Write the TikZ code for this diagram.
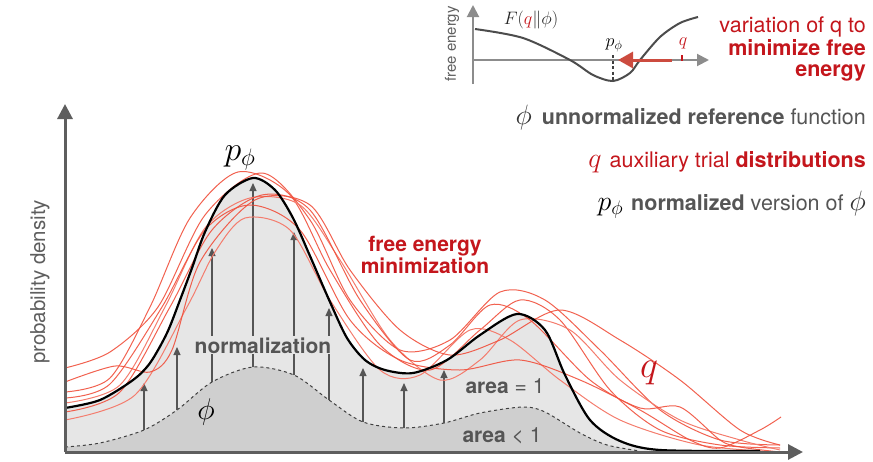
\RequirePackage{fix-cm}
\documentclass[tikz,border=0pt]{standalone}
\usepackage{fontspec}
\setmainfont{TeX Gyre Heros}
\usetikzlibrary{arrows.meta}
\definecolor{axisgray}{HTML}{5E5E5E}
\definecolor{insetgray}{HTML}{8C8C8C}
\definecolor{txtgray}{HTML}{555555}
\definecolor{fillA}{HTML}{E6E6E6}
\definecolor{fillB}{HTML}{CFCFCF}
\definecolor{qred}{HTML}{F0503C}
\definecolor{darkred}{HTML}{C4161C}
\definecolor{arrred}{HTML}{CC4B3F}
\tikzset{
  mainaxis/.style={line width=3pt, color=axisgray, -{Triangle[length=15pt,width=15pt]}},
  inaxis/.style={line width=2pt, color=insetgray, -{Triangle[length=12pt,width=12pt]}},
  normarrow/.style={line width=1.2pt, color=txtgray, -{Triangle[length=8pt,width=7pt]}},
  qcurve/.style={line width=1pt, color=qred, opacity=0.9},
  qcurvelight/.style={line width=1pt, color=qred!75!white},
  pcurve/.style={line width=2.2pt, color=black},
  phicurve/.style={line width=1pt, color=black!75, dash pattern=on 3pt off 3pt},
  lbl/.style={inner sep=1pt, font=\fontsize{21}{25}\selectfont\bfseries, text=txtgray},
  legend/.style={inner sep=0pt, anchor=base east, font=\fontsize{21.5}{25}\selectfont, text=txtgray},
}
\def\pcoords{(65,408) (100,400) (133,380) (150,363) (167,333) (180,300) (192,268) (205,232) (225,195) (253,178) (275,190) (293,218) (310,256) (330,302) (347,338) (365,360) (385,370) (413,373) (447,360) (480,335) (517,314) (545,330) (565,375) (590,420) (620,441) (660,450) (760,451)}
\def\phicoords{(65,447) (100,443) (144,430) (177,410) (212,382) (253,367) (294,375) (329,400) (363,422) (404,428) (444,423) (480,413) (523,407) (545,412) (580,433) (607,445) (640,451)}
\begin{document}
\begin{tikzpicture}[x=1pt,y=-1pt]
\useasboundingbox (0,0) rectangle (873,461);

% ---- filled areas
\fill[fillA] (65,452) -- plot[smooth] coordinates {\pcoords} -- (760,452) -- cycle;
\fill[fillB] (65,452) -- plot[smooth] coordinates {\phicoords} -- (640,452) -- cycle;
\draw[phicurve] plot[smooth] coordinates {\phicoords};

% ---- normalization arrows
\foreach \i/\x/\yb/\yt in {1/144/430/383, 2/177/410/347, 3/212/382/248, 4/253/367/183, 5/294/375/232, 6/329/400/308, 7/363/422/368, 8/404/428/383, 9/444/423/370}{
  \coordinate (b\i) at (\x,\yb);
  \coordinate (t\i) at (\x,\yt);
  \draw[normarrow] (b\i) -- (t\i);
}

% ---- trial distributions q
\draw[qcurve] plot[smooth] coordinates {(65,392) (110,378) (150,307) (190,218) (238,172) (290,195) (330,270) (380,345) (430,370) (480,330) (520,300) (560,320) (610,390) (660,430) (720,445) (780,448)};
\draw[qcurve] plot[smooth] coordinates {(65,368) (110,352) (158,307) (205,215) (262,173) (310,220) (350,300) (400,350) (450,340) (500,292) (545,300) (600,350) (660,410) (720,440) (780,445)};
\draw[qcurvelight] plot[smooth] coordinates {(65,403) (120,385) (165,307) (205,228) (250,198) (300,205) (340,260) (390,340) (440,380) (480,360) (520,320) (570,330) (620,380) (680,420) (740,440) (780,450)};
\draw[qcurve] plot[smooth] coordinates {(65,412) (120,392) (170,307) (212,230) (262,195) (310,210) (360,300) (410,360) (450,345) (490,305) (530,320) (590,380) (640,408) (680,407) (720,440) (740,447) (780,452)};
\draw[qcurvelight] plot[smooth] coordinates {(65,420) (135,395) (187,307) (215,252) (245,218) (290,230) (330,300) (380,370) (420,375) (470,330) (510,340) (560,380) (620,420) (700,445) (780,452)};
\draw[qcurve] plot[smooth] coordinates {(65,382) (115,366) (150,372) (172,350) (200,262) (255,200) (310,205) (350,270) (400,330) (450,355) (500,340) (560,310) (620,340) (680,380) (740,430) (780,445)};
\draw[qcurve] plot[smooth] coordinates {(65,398) (110,384) (162,307) (205,230) (250,205) (300,230) (350,320) (400,360) (460,370) (520,360) (580,380) (640,410) (690,440) (720,448) (760,430) (781,417)};

% ---- normalized p_phi
\draw[pcurve] plot[smooth] coordinates {\pcoords};

% ---- main axes
\coordinate (O) at (65,452);
\coordinate (ytip) at (65,104);
\coordinate (xtip) at (803,452);
\draw[mainaxis] (O) -- (ytip);
\draw[mainaxis] (O) -- (xtip);
\node[rotate=90, text=axisgray, font=\fontsize{20.5}{24}\selectfont] (ylab) at (40,282) {probability density};

% ---- labels in the main plot
\node[inner sep=0pt, anchor=base] (plab) at (240,160) {\fontsize{34}{38}\selectfont$p_\phi$};
\node[inner sep=0pt] (philab) at (206,412) {\fontsize{30}{34}\selectfont$\phi$};
\node[inner sep=0pt, text=darkred] (qlab) at (649,373) {\fontsize{38}{42}\selectfont$q$};
\node[lbl, fill=fillA, anchor=base] (normlab) at (263,353) {normalization};
\node[lbl, anchor=base] (area1) at (505,393) {area {\mdseries = 1}};
\node[lbl, anchor=base] (area2) at (502,442) {area {\mdseries < 1}};
\node[lbl, text=darkred, fill=white, align=center, anchor=base, inner sep=0pt] (femin) at (425,273) {free energy\\[-3pt]minimization};

% ---- inset
\coordinate (iO) at (473,60);
\coordinate (iyb) at (473,84);
\coordinate (iyt) at (473,5);
\coordinate (ixt) at (709,60);
\draw[inaxis] (iyb) -- (iyt);
\draw[inaxis] (iO) -- (ixt);
\node[rotate=90, text=axisgray, font=\fontsize{15}{18}\selectfont] (iylab) at (452,44) {free energy};
\draw[line width=2pt, color=black!70] plot[smooth] coordinates {(475,29) (523,38) (570,60) (593,75) (613,81) (630,73) (640,60) (660,37) (680,23) (698,17)};
\coordinate (pmin) at (613,81);
\coordinate (pax) at (613,55);
\draw[line width=1.3pt, color=black!75, dash pattern=on 3pt off 2.5pt] (pax) -- (pmin);
\coordinate (qstart) at (672,60);
\coordinate (qend) at (618,60);
\draw[line width=3pt, color=arrred, -{Triangle[length=15pt,width=16pt]}] (qstart) -- (qend);
\coordinate (qt1) at (682,55);
\coordinate (qt2) at (682,61);
\draw[line width=2pt, color=darkred] (qt1) -- (qt2);
\node[inner sep=0pt, text=darkred] (iq) at (683,43) {\fontsize{18}{20}\selectfont$q$};
\node[inner sep=0pt] (ip) at (614,45) {\fontsize{18}{20}\selectfont$p_\phi$};
\node[inner sep=0pt, text=black!85] (iF) at (531,20) {\fontsize{18}{20}\selectfont$F({\color{darkred}q}\|\phi)$};

% ---- right text
\node[legend, text=darkred] (v1) at (866,32) {variation of q to};
\node[legend, text=darkred, font=\fontsize{21.5}{25}\selectfont\bfseries] (v2) at (866,55) {minimize free};
\node[legend, text=darkred, font=\fontsize{21.5}{25}\selectfont\bfseries] (v3) at (866,76) {energy};

\node[legend] (lg1) at (866,124) {{\color{black!80}\fontsize{28}{30}\selectfont$\phi$}\hspace{10pt}\textbf{unnormalized reference} function};
\node[legend, text=darkred] (lg2) at (866,167) {{\fontsize{28}{30}\selectfont$q$}\hspace{8pt}auxiliary trial \textbf{distributions}};
\node[legend] (lg3) at (866,210) {{\color{black}\fontsize{28}{30}\selectfont$p_\phi$}\hspace{8pt}\textbf{normalized} version of {\color{black!80}\fontsize{28}{30}\selectfont$\phi$}};
\end{tikzpicture}
\end{document}
